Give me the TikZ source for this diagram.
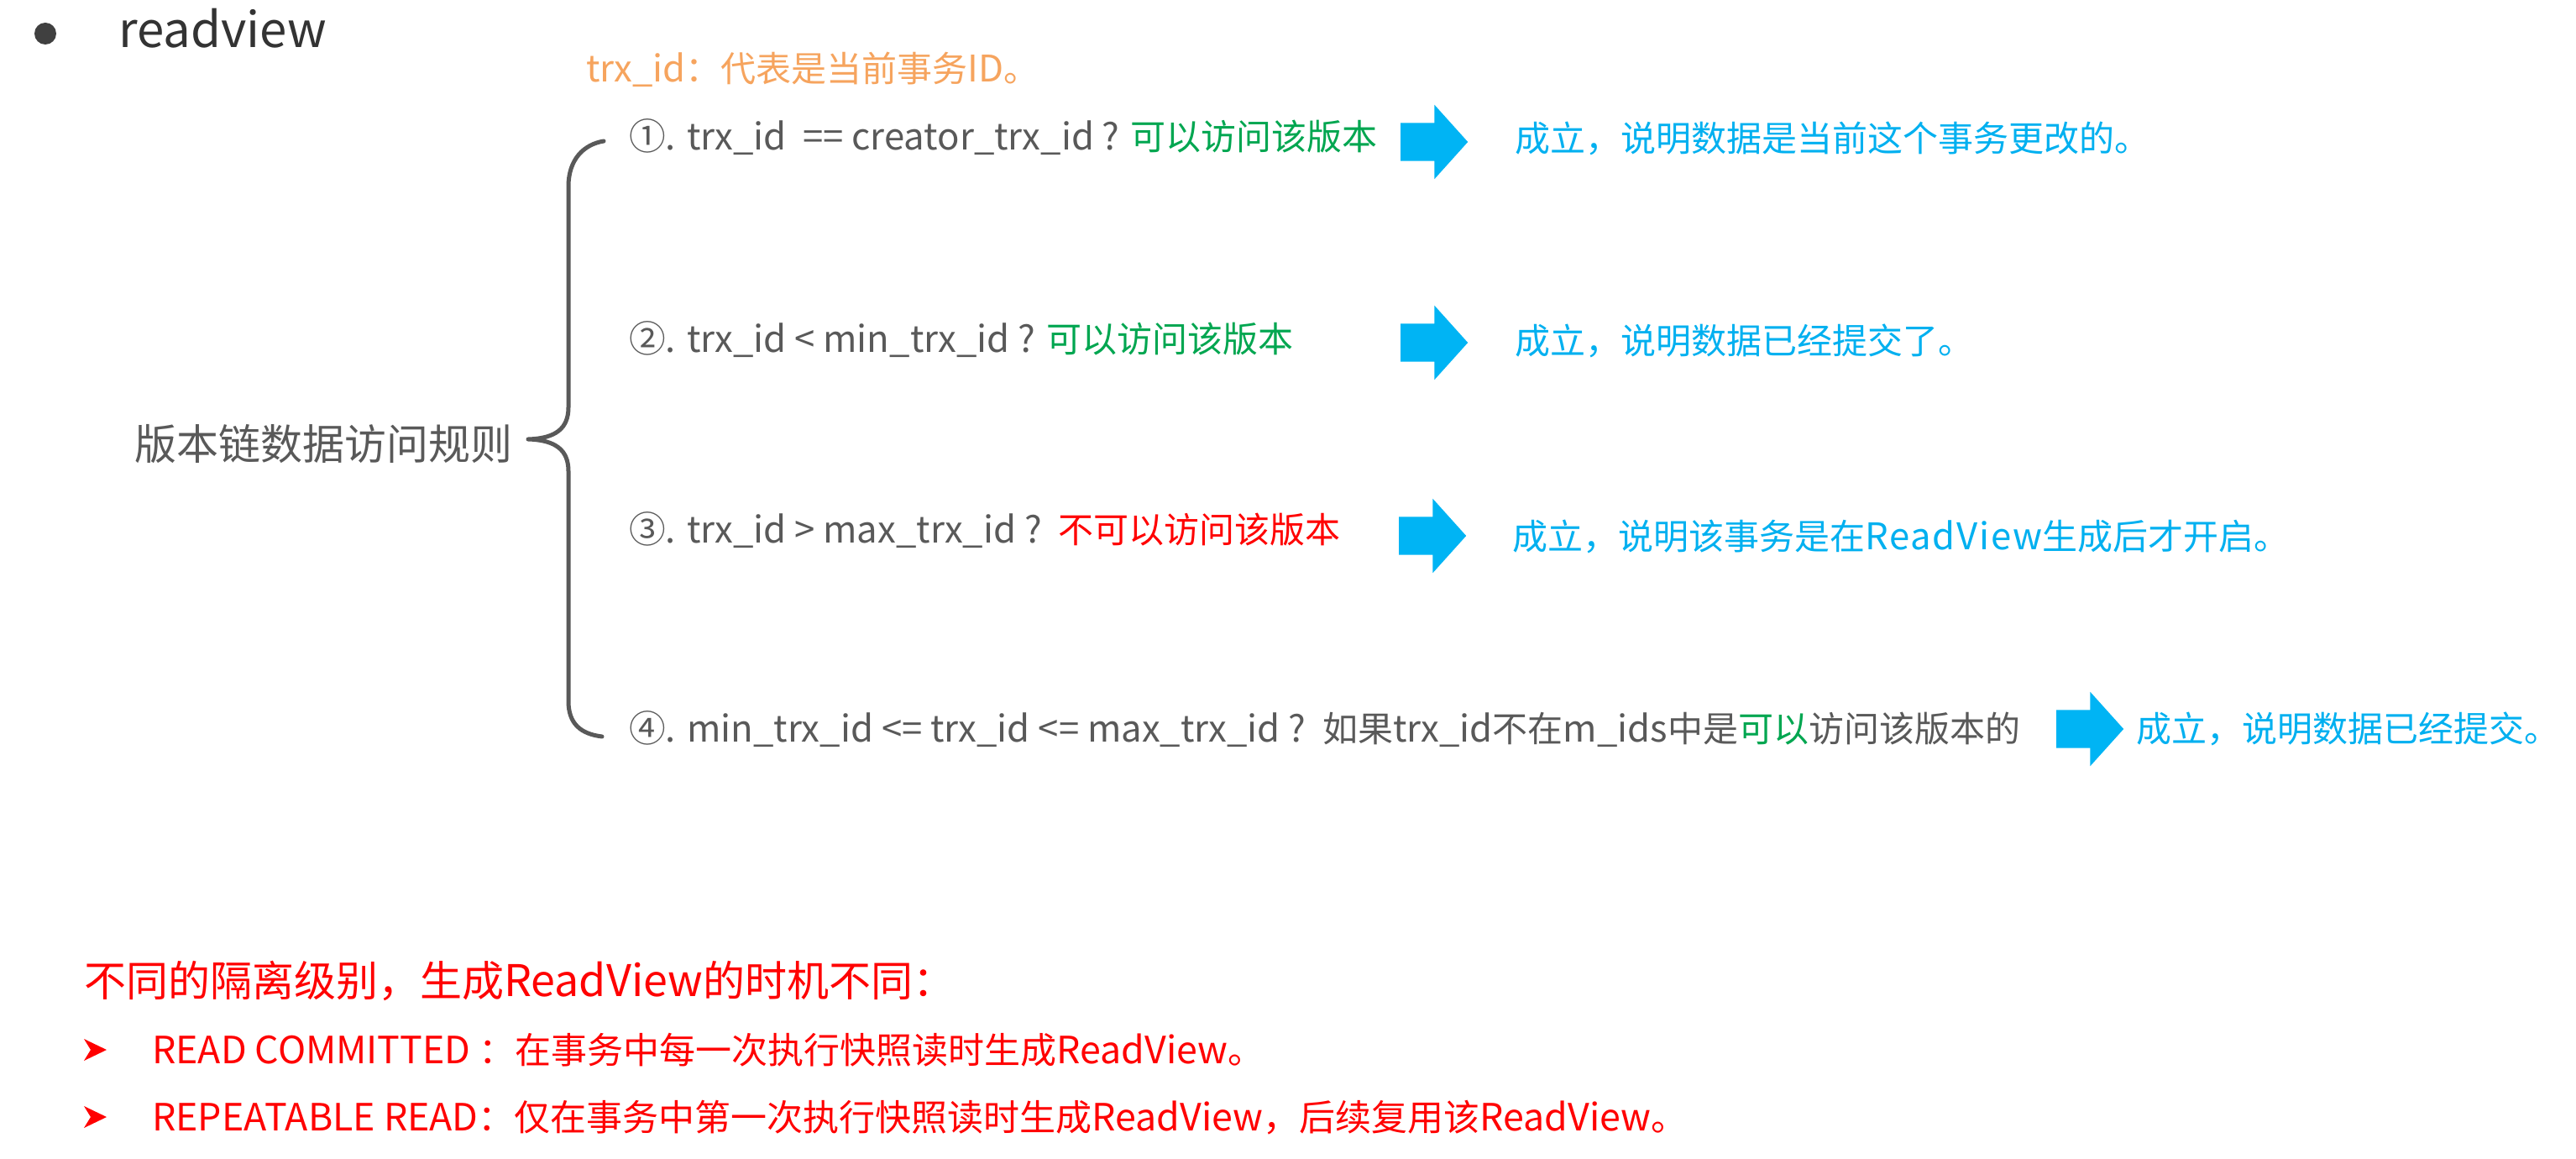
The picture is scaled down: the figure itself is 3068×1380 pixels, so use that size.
\documentclass[tikz,border=0pt]{standalone}
\usepackage{fontspec}
\setmainfont{Noto Sans CJK SC}
\newfontfamily\lf{Noto Sans CJK SC}[Scale=1.04]
\usetikzlibrary{shapes.arrows}
\definecolor{txtgray}{HTML}{595959}
\definecolor{headgray}{HTML}{333333}
\definecolor{dotgray}{HTML}{404040}
\definecolor{okgreen}{HTML}{00A650}
\definecolor{nored}{HTML}{FF0000}
\definecolor{resblue}{HTML}{00B0F0}
\definecolor{arrowblue}{HTML}{00B4F4}
\definecolor{noteorange}{HTML}{F6A45E}
\begin{document}
\begin{tikzpicture}[x=1pt,y=-1pt,
  txt42/.style={inner sep=0pt, anchor=west, text height=37pt, text depth=5pt, font=\fontsize{42pt}{50pt}\selectfont},
  rowtxt/.style={txt42, text=txtgray},
  restxt/.style={txt42, text=resblue},
  bartxt/.style={inner sep=0pt, anchor=west, text height=38pt, text depth=5pt, font=\fontsize{43pt}{51pt}\selectfont, text=nored},
  barrow/.style={single arrow, fill=arrowblue, draw=none, minimum height=80pt,
    inner xsep=0pt, inner ysep=22.5pt, single arrow tip angle=96, single arrow head extend=21.5pt, anchor=tail},
  brace/.style={draw=txtgray, line width=5pt, line cap=round, line join=round},
  bulletarrow/.style={fill=nored}
]
\useasboundingbox (0,0) rectangle (3068,1380);
\fill[white] (0,0) rectangle (3068,1380);

% title
\fill[dotgray] (54,40) circle (13);
\node[inner sep=0pt, anchor=west, text=headgray, text height=49pt, text depth=7pt,
  font=\fontsize{56pt}{64pt}\selectfont] (title) at (141,36) {\lf readview};

% note
\node[txt42, text=noteorange] (note) at (698,82) {{\lf trx\_id}：代表是当前事务{\lf ID}。};

% label and brace
\node[inner sep=0pt, anchor=west, text=txtgray, text height=44pt, text depth=6pt,
  font=\fontsize{50pt}{58pt}\selectfont] (label) at (160,528) {版本链数据访问规则};
\coordinate (bt) at (719,168);
\coordinate (btip) at (629,523);
\coordinate (bb) at (717,877);
\draw[brace] (bt) .. controls (695,172) and (677,190) .. (677,222) -- (677,485)
  .. controls (677,510) and (662,522) .. (btip)
  .. controls (662,524) and (677,536) .. (677,561) -- (677,835)
  .. controls (677,862) and (692,874) .. (bb);

% rules
\node[rowtxt] (r1) at (749,163) {{\lf ①. trx\_id\ \ == creator\_trx\_id ? }\textcolor{okgreen}{可以访问该版本}};
\node[rowtxt] (r2) at (749,403) {{\lf ②. trx\_id < min\_trx\_id ? }\textcolor{okgreen}{可以访问该版本}};
\node[rowtxt] (r3) at (749,630) {{\lf ③. trx\_id > max\_trx\_id ?\ \ }\textcolor{nored}{不可以访问该版本}};
\node[rowtxt] (r4) at (749,867) {{\lf ④. min\_trx\_id <= trx\_id <= max\_trx\_id ?\ \ }如果{\lf trx\_id}不在{\lf m\_ids}中是\textcolor{okgreen}{可以}访问该版本的};

% arrows
\node[barrow] (a1) at (1668,169) {};
\node[barrow] (a2) at (1668,408) {};
\node[barrow] (a3) at (1666,638) {};
\node[barrow] (a4) at (2449,868) {};

% results
\node[restxt] (s1) at (1804,165) {成立，说明数据是当前这个事务更改的。};
\node[restxt] (s2) at (1804,405) {成立，说明数据已经提交了。};
\node[restxt] (s3) at (1801,638) {成立，说明该事务是在{\lf\addfontfeature{LetterSpace=4} ReadView}生成后才开启。};
\node[restxt] (s4) at (2544,867) {成立，说明数据已经提交。};

% bottom
\node[inner sep=0pt, anchor=west, text=nored, text height=44pt, text depth=6pt,
  font=\fontsize{50pt}{60pt}\selectfont] (iso) at (100,1167) {不同的隔离级别，生成{\lf ReadView}的时机不同：};
\fill[bulletarrow] (100,1237) -- (127,1250) -- (100,1263) -- (108,1250) -- cycle;
\node[bartxt] (rc) at (181,1250) {{\lf READ COMMITTED }：在事务中每一次执行快照读时生成{\lf ReadView}。};
\fill[bulletarrow] (100,1317) -- (127,1330) -- (100,1343) -- (108,1330) -- cycle;
\node[bartxt] (rr) at (181,1330) {{\lf REPEATABLE READ}：仅在事务中第一次执行快照读时生成{\lf ReadView}，后续复用该{\lf ReadView}。};
\end{tikzpicture}
\end{document}
